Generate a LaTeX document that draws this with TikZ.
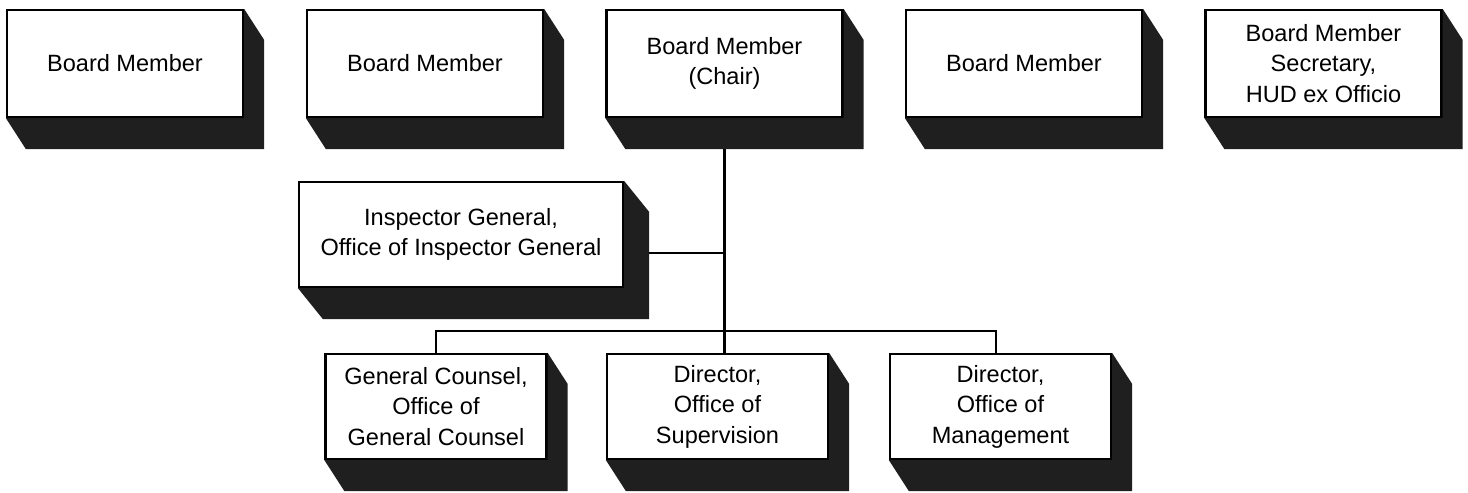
\documentclass[tikz,border=0pt]{standalone}
\usepackage{fontspec}
\setmainfont{Liberation Sans}
\usetikzlibrary{backgrounds}

% solid drop shade below and right of a box
\newcommand{\boxshade}[2][20]{%
  \fill[black!88] (#2.north east) -- ++(#1,31) |- ([shift={(#1,31)}]#2.south west)
    -- (#2.south west) -- (#2.south east) -- cycle;}

\tikzset{
  orgbox/.style={draw, line width=1.3pt, fill=white, inner sep=0pt, align=center,
    font=\fontsize{13.4}{17.4}\selectfont},
  topbox/.style={orgbox, minimum width=4.72cm, minimum height=2.14cm},
  lowbox/.style={orgbox, minimum width=4.42cm, minimum height=2.1cm},
  link/.style={line width=1.3pt}
}

\begin{document}
\begin{tikzpicture}[x=0.02cm, y=-0.02cm]
  \useasboundingbox (0,0) rectangle (1468,493);
  % board row
  \foreach \n/\x/\lbl in {bmA/125/{Board Member}, bmB/425/{Board Member},
      chair/724.5/{Board Member\\(Chair)}, bmD/1024/{Board Member},
      sec/1323.5/{Board Member\\Secretary,\\HUD ex Officio}} {
    \node[topbox] (\n) at (\x,63.5) {\lbl};
    \boxshade{\n}
  }
  % inspector general
  \node[orgbox, minimum width=6.48cm, minimum height=2.1cm] (ig) at (461,234.5)
    {Inspector General,\\Office of Inspector General};
  \boxshade[25]{ig}
  % offices
  \node[lowbox] (gc) at (436,406.5) {General Counsel,\\Office of\\General Counsel};
  \node[lowbox] (sup) at (717.5,406.5) {Director,\\Office of\\Supervision};
  \node[lowbox] (mgmt) at (1000.5,406.5) {Director,\\Office of\\Management};
  \foreach \n in {gc,sup,mgmt} \boxshade{\n}
  % connectors
  \coordinate (hub) at (724.5,331);
  \coordinate (igtap) at (724.5,253);
  \begin{scope}[on background layer]
    \draw[link] (chair.south) -- (hub);
    \draw[link] (ig.east |- igtap) -- (igtap);
    \draw[link] (gc.north) |- (hub) -| ([xshift=-2.5]mgmt.north);
    \draw[link] (hub) -- (hub |- sup.north);
  \end{scope}
\end{tikzpicture}
\end{document}
